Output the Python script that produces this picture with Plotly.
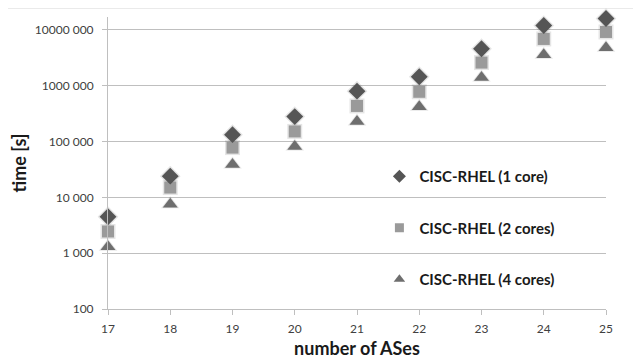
import plotly.graph_objects as go

ases = [17, 18, 19, 20, 21, 22, 23, 24, 25]
core1 = [4500, 24000, 133000, 280000, 800000, 1450000, 4600000, 12000000, 16000000]
core2 = [2450, 15000, 78000, 152000, 435000, 780000, 2600000, 6900000, 9200000]
core4 = [1300, 7500, 39000, 82000, 230000, 420000, 1400000, 3600000, 4800000]

names = ["CISC-RHEL (1 core)", "CISC-RHEL (2 cores)", "CISC-RHEL (4 cores)"]
ytickvals = [100, 1000, 10000, 100000, 1000000, 10000000]
yticktext = ["100", "1 000", "10 000", "100 000", "1000 000", "10000 000"]

FONT = "Lato"
fig = go.Figure()

series = [
    (core2, names[1], "square", "#9a9a9a", 12, 9),
    (core4, names[2], "triangle-up", "#6e6e6e", 13, 10),
    (core1, names[0], "diamond", "#555555", 13, 10),
]
# shadows
for vals, name, sym, col, size, lsize in series:
    fig.add_trace(go.Scatter(
        x=ases, y=vals, mode="markers", showlegend=False, hoverinfo="skip",
        marker=dict(symbol=sym, size=size + 3, color="rgba(0,0,0,0.10)", line=dict(width=0)),
        cliponaxis=False,
    ))
for vals, name, sym, col, size, lsize in series:
    fig.add_trace(go.Scatter(
        x=ases, y=vals, mode="markers", name=name, showlegend=False,
        marker=dict(symbol=sym, size=size, color=col, line=dict(width=0)),
        cliponaxis=False,
    ))
# legend entries (small symbols)
order = {names[0]: 1, names[1]: 2, names[2]: 3}
for vals, name, sym, col, size, lsize in sorted(series, key=lambda s: order[s[1]]):
    fig.add_trace(go.Scatter(
        x=[None], y=[None], mode="markers", name=name, legendgroup=name,
        legendrank=order[name],
        marker=dict(symbol=sym, size=lsize, color=col, line=dict(width=0)),
    ))

fig.update_layout(
    width=641, height=360,
    margin=dict(l=100, r=43, t=9, b=59),
    paper_bgcolor="white", plot_bgcolor="white",
    font=dict(family=FONT, size=12, color="#404040"),
    showlegend=True,
    legend=dict(x=0.545, y=0.51, xanchor="left", yanchor="top",
                font=dict(family=FONT, size=15, color="#1a1a1a", weight="bold"),
                tracegroupgap=29, bgcolor="rgba(0,0,0,0)"),
    xaxis=dict(range=[17, 25], tickvals=ases, ticks="outside", ticklen=5,
               tickcolor="#bfbfbf", showline=True, linecolor="#bfbfbf", linewidth=1,
               showgrid=False, zeroline=False, ticklabelstandoff=4,
               tickfont=dict(size=12, color="#404040"),
               title=dict(text="number of ASes", standoff=6,
                          font=dict(family=FONT, size=18, color="#1a1a1a", weight="bold"))),
    yaxis=dict(type="log", range=[2, 7.232], tickvals=ytickvals, ticktext=yticktext,
               ticks="outside", ticklen=5, tickcolor="#bfbfbf",
               showline=True, linecolor="#bfbfbf", linewidth=1,
               showgrid=True, gridcolor="#bfbfbf", gridwidth=1, zeroline=False,
               ticklabelstandoff=6,
               tickfont=dict(size=12, color="#404040"),
               title=dict(text="time [s]", standoff=4,
                          font=dict(family=FONT, size=18, color="#1a1a1a", weight="bold"))),
    shapes=[dict(type="rect", xref="paper", yref="paper",
                 x0=-0.2028, x1=1.07, y0=-0.2, y1=1.031,
                 line=dict(color="#d0d0d0", width=1), fillcolor="rgba(0,0,0,0)", layer="below")],
)

fig.write_html("out.html")
